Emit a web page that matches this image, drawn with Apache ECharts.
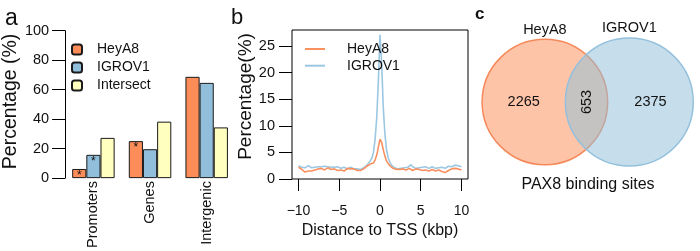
<!DOCTYPE html>
<html><head><meta charset="utf-8">
<script src="https://cdn.jsdelivr.net/npm/echarts@6/dist/echarts.min.js"></script>
<style>html,body{margin:0;padding:0;background:#fff}#c{width:700px;height:251px}</style>
</head><body><div id="c"></div>
<script>
// ---------- Panel a data ----------
const regions = ['Promoters', 'Genes', 'Intergenic'];
const barNames = ['HeyA8', 'IGROV1', 'Intersect'];
const heyA8Pct = [6.2, 25.1, 68.7];
const igrov1Pct = [15.8, 19.6, 64.6];
const intersectPct = [27.3, 38.3, 34.4];
const heyA8Star = ['*', '*', ''];
const igrov1Star = ['*', '', ''];
const intersectStar = ['', '', ''];
const pctTicks = [0, 20, 40, 60, 80, 100];

// ---------- Panel b data ----------
const lineNames = ['HeyA8', 'IGROV1'];
const tssX = [-10,-9.8,-9.6,-9.4,-9.2,-9,-8.8,-8.6,-8.4,-8.2,-8,-7.8,-7.6,-7.4,-7.2,-7,-6.8,-6.6,-6.4,-6.2,-6,-5.8,-5.6,-5.4,-5.2,-5,-4.8,-4.6,-4.4,-4.2,-4,-3.8,-3.6,-3.4,-3.2,-3,-2.8,-2.6,-2.4,-2.2,-2,-1.8,-1.6,-1.4,-1.2,-1,-0.8,-0.6,-0.4,-0.2,0,0.2,0.4,0.6,0.8,1,1.2,1.4,1.6,1.8,2,2.2,2.4,2.6,2.8,3,3.2,3.4,3.6,3.8,4,4.2,4.4,4.6,4.8,5,5.2,5.4,5.6,5.8,6,6.2,6.4,6.6,6.8,7,7.2,7.4,7.6,7.8,8,8.2,8.4,8.6,8.8,9,9.2,9.4,9.6,9.8,10];
const heyA8Tss = [2.2,2.0,1.8,1.6,1.3,1.2,1.5,1.7,1.5,1.4,1.7,2.0,1.9,1.8,2.0,1.9,1.7,2.0,2.1,1.9,1.8,1.7,1.9,1.8,1.6,1.5,1.7,1.6,1.5,1.7,2.0,1.8,1.9,2.1,1.9,1.7,1.6,1.8,1.6,1.7,1.9,2.1,2.4,2.6,2.8,2.7,3.0,3.6,4.5,6.0,7.5,6.9,5.5,4.3,3.4,2.9,2.5,2.2,2.0,1.9,1.8,1.7,1.8,1.7,1.9,1.8,1.7,1.9,2.0,1.7,1.6,1.8,1.9,1.7,1.8,1.9,1.6,1.5,1.7,1.6,1.5,1.6,1.8,1.6,1.5,1.6,1.7,1.6,1.4,1.3,1.2,1.4,1.6,1.8,1.9,1.8,2.0,2.1,1.9,2.0,1.7];
const igrov1Tss = [2.5,2.4,2.2,2.0,2.1,2.3,2.5,2.3,2.1,2.0,2.2,2.4,2.3,2.5,2.3,2.2,2.4,2.5,2.3,2.1,2.2,2.4,2.2,2.1,2.3,2.2,2.0,2.1,2.2,2.0,1.9,2.1,2.2,2.0,1.9,1.8,1.9,1.7,1.8,1.9,2.1,2.4,2.6,3.0,3.4,3.9,5.0,7.5,11.5,18.5,27.1,22.0,13.5,8.5,5.5,4.0,3.2,2.6,2.3,2.1,2.0,1.9,2.1,2.0,1.9,2.1,2.0,2.2,2.4,2.7,2.3,2.1,2.0,2.2,2.1,2.0,2.2,2.4,2.3,2.1,2.0,2.1,2.3,2.1,2.0,2.2,2.1,2.0,2.2,2.1,2.0,2.2,2.4,2.5,2.3,2.4,2.6,2.7,2.5,2.6,2.3];
const tssYTicks = [0, 5, 10, 15, 20, 25];
const tssXTicks = [-10, -5, 0, 5, 10];

// ---------- Panel c data ----------
const vennSets = ['HeyA8', 'IGROV1'];
const vennOnly = [2265, 2375];
const vennShared = 653;
const vennTitle = 'PAX8 binding sites';

// ---------- styles ----------
const FONT = '"Liberation Sans", Arial, Helvetica, sans-serif';
const barColors = ['#FC8D59', '#91BFDB', '#FFFFBF'];
const lineColors = ['#F9905F', '#9CC7E2'];
const vennFill = ['rgba(252,141,89,0.52)', 'rgba(145,191,219,0.52)'];
const vennStroke = ['#F5895A', '#93C0DC'];

// ---------- Venn geometry (area proportional) ----------
const vennTotal = vennOnly.map(v => v + vennShared);
const vennR = vennTotal.map(t => Math.sqrt(t / Math.PI));
function lensArea(r1, r2, d) {
  if (d >= r1 + r2) return 0;
  if (d <= Math.abs(r1 - r2)) return Math.PI * Math.min(r1, r2) ** 2;
  const a1 = Math.acos((d * d + r1 * r1 - r2 * r2) / (2 * d * r1));
  const a2 = Math.acos((d * d + r2 * r2 - r1 * r1) / (2 * d * r2));
  return r1 * r1 * a1 + r2 * r2 * a2 - 0.5 * Math.sqrt((-d + r1 + r2) * (d + r1 - r2) * (d - r1 + r2) * (d + r1 + r2));
}
let lo = Math.abs(vennR[0] - vennR[1]) + 1e-6, hi = vennR[0] + vennR[1];
for (let i = 0; i < 80; i++) {
  const mid = (lo + hi) / 2;
  if (lensArea(vennR[0], vennR[1], mid) > vennShared) lo = mid; else hi = mid;
}
const vennD = (lo + hi) / 2;
const vennCx = [0, vennD];
const circleData = vennCx.map((cx, i) => [cx, 0, vennR[i]]);
const leftOnlyMid = ((vennCx[0] - vennR[0]) + (vennCx[1] - vennR[1])) / 2;
const lensMid = ((vennCx[1] - vennR[1]) + (vennCx[0] + vennR[0])) / 2;
const rightOnlyMid = ((vennCx[0] + vennR[0]) + (vennCx[1] + vennR[1])) / 2;
// text labels: [x, y, rotate(deg)] with matching text list
const vennTextPos = [
  [leftOnlyMid, 0, 0], [lensMid, 0, 90], [rightOnlyMid, 0, 0],
  [vennCx[0], vennR[0] + 4.7, 0], [vennCx[1], vennR[1] + 4.7, 0]
];
const vennTexts = [String(vennOnly[0]), String(vennShared), String(vennOnly[1]), vennSets[0], vennSets[1]];

function starItem(v, s) {
  return { value: v, label: { show: s !== '', formatter: s, position: 'insideTop', distance: 1, fontSize: 12, color: '#111', fontFamily: FONT } };
}
const barData = [heyA8Pct, igrov1Pct, intersectPct];
const starData = [heyA8Star, igrov1Star, intersectStar];
const tssData = [heyA8Tss, igrov1Tss];

const minus = v => String(v).replace('-', '\u2212');

const chart = echarts.init(document.getElementById('c'), null, { renderer: 'canvas' });
const option = {
  animation: false,
  backgroundColor: '#fff',
  textStyle: { fontFamily: FONT },
  grid: [
    { left: 57, top: 30.7, width: 178, bottom: 72 },
    { left: 292, top: 30, right: 232, bottom: 72, show: true, borderColor: '#000', borderWidth: 1, backgroundColor: 'transparent' },
    { left: 480, top: 9.3, width: 220, height: 164.8 }
  ],
  xAxis: [
    { gridIndex: 0, type: 'category', data: regions,
      axisLine: { show: false }, axisTick: { show: false },
      axisLabel: { rotate: 90, margin: 3, fontSize: 14.5, color: '#111', fontFamily: FONT } },
    { gridIndex: 1, type: 'value', min: -10.8, max: 10.8,
      splitLine: { show: false }, axisLine: { show: false, onZero: false },
      axisTick: { show: true, length: 12, inside: false, lineStyle: { color: '#000' }, customValues: tssXTicks },
      axisLabel: { fontSize: 14, margin: 25, color: '#111', fontFamily: FONT, customValues: tssXTicks, formatter: minus },
      name: 'Distance to TSS (kbp)', nameLocation: 'middle', nameGap: 35,
      nameTextStyle: { fontSize: 16, color: '#111', fontFamily: FONT } },
    { gridIndex: 2, type: 'value', min: -31.5, max: 75.3, show: false }
  ],
  yAxis: [
    { gridIndex: 0, type: 'value', min: 0, max: 100, interval: 20,
      splitLine: { show: false },
      axisLine: { show: true, onZero: false, lineStyle: { color: '#000', width: 1 } },
      axisTick: { show: true, length: 13, lineStyle: { color: '#000' } },
      axisLabel: { fontSize: 14.5, margin: 16, color: '#111', fontFamily: FONT },
      name: 'Percentage (%)', nameLocation: 'middle', nameGap: 26,
      nameTextStyle: { fontSize: 19.5, color: '#111', fontFamily: FONT, padding: [0, 0, 0, 6] } },
    { gridIndex: 1, type: 'value', min: 0, max: 28,
      splitLine: { show: false }, axisLine: { show: false, onZero: false },
      axisTick: { show: true, length: 13, lineStyle: { color: '#000' }, customValues: tssYTicks },
      axisLabel: { fontSize: 14.5, margin: 17, color: '#111', fontFamily: FONT, customValues: tssYTicks },
      name: 'Percentage(%)', nameLocation: 'middle', nameGap: 34,
      nameTextStyle: { fontSize: 19, color: '#111', fontFamily: FONT, padding: [0, 0, 0, 16] } },
    { gridIndex: 2, type: 'value', min: -35, max: 45, show: false }
  ],
  legend: [
    { show: true, orient: 'vertical', left: 71, top: 42.5, padding: 0, itemWidth: 10, itemHeight: 10, itemGap: 4,
      data: barNames, selectedMode: false,
      textStyle: { fontSize: 14, lineHeight: 14, color: '#111', fontFamily: FONT, padding: [0, 0, 0, 10] } },
    { show: true, orient: 'vertical', left: 305, top: 42, padding: 0, itemWidth: 20, itemHeight: 2, itemGap: 2.7,
      icon: 'rect',
      data: lineNames.map(n => n + ' '), selectedMode: false,
      formatter: n => n.trim(),
      textStyle: { fontSize: 14, lineHeight: 14, color: '#111', fontFamily: FONT, padding: [0, 0, 0, 17] } }
  ],
  series: [
    ...barNames.map((n, i) => ({
      name: n, type: 'bar', xAxisIndex: 0, yAxisIndex: 0,
      barGap: 0, barCategoryGap: '25%',
      itemStyle: { color: barColors[i], borderColor: '#1a1a1a', borderWidth: 1 },
      data: barData[i].map((v, j) => starItem(v, starData[i][j]))
    })),
    ...lineNames.map((n, i) => ({
      name: n + ' ', type: 'line', xAxisIndex: 1, yAxisIndex: 1,
      symbol: 'none', showSymbol: false, smooth: false,
      lineStyle: { color: lineColors[i], width: 1.6 },
      itemStyle: { color: lineColors[i] },
      z: i === 0 ? 3 : 2,
      data: tssX.map((x, k) => [x, tssData[i][k]])
    })),
    {
      type: 'custom', xAxisIndex: 2, yAxisIndex: 2, clip: false,
      data: circleData,
      renderItem: (params, api) => {
        const idx = params.dataIndex;
        const c = api.coord([api.value(0), api.value(1)]);
        const r = api.size([api.value(2), 0])[0];
        return { type: 'circle', shape: { cx: c[0], cy: c[1], r: r },
          style: { fill: vennFill[idx], stroke: vennStroke[idx], lineWidth: 1.5 } };
      }
    },
    {
      type: 'custom', xAxisIndex: 2, yAxisIndex: 2, clip: false, z: 10,
      data: vennTextPos,
      renderItem: (params, api) => {
        const idx = params.dataIndex;
        const c = api.coord([api.value(0), api.value(1)]);
        return { type: 'text', x: c[0], y: c[1], rotation: api.value(2) * Math.PI / 180,
          style: { text: vennTexts[idx], fontSize: 14.5, fill: '#111', fontFamily: FONT,
                   align: 'center', verticalAlign: 'middle' } };
      }
    }
  ],
  graphic: [
    { type: 'text', left: 5, top: 7, style: { text: 'a', fontSize: 23, fill: '#111', fontFamily: FONT } },
    { type: 'text', left: 231, top: 7, style: { text: 'b', fontSize: 22, fill: '#111', fontFamily: FONT } },
    { type: 'text', left: 475, top: 6, style: { text: 'c', fontSize: 17, fontWeight: 'bold', fill: '#111', fontFamily: FONT } },
    { type: 'text', x: 588, y: 185, style: { text: vennTitle, fontSize: 16, fill: '#111', fontFamily: FONT, textAlign: 'center', textVerticalAlign: 'middle' } }
  ]
};
chart.setOption(option);
</script>
</body></html>
